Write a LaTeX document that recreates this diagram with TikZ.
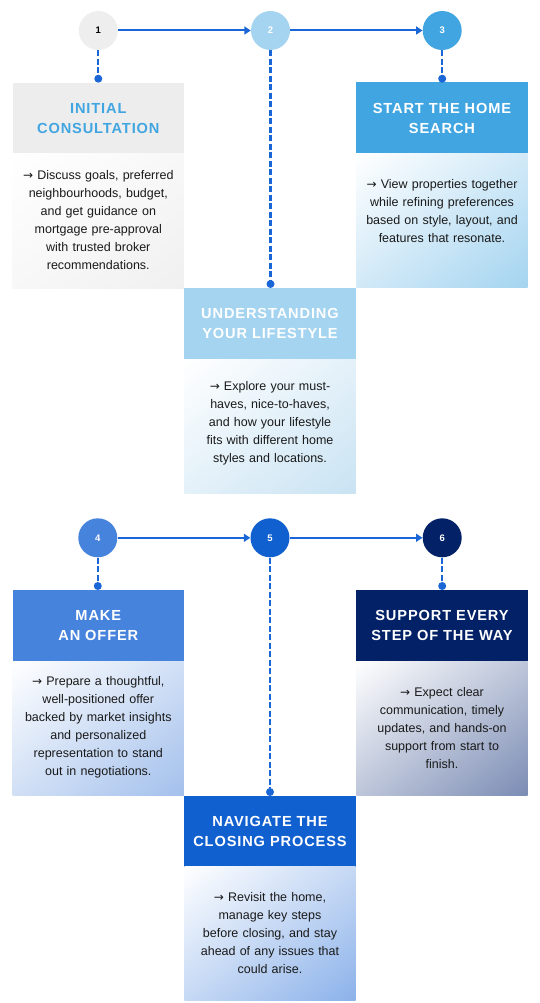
\documentclass[tikz,border=0pt]{standalone}
\usepackage{fontspec}
\setmainfont{Liberation Sans}
\newfontfamily\ttlfont[LetterSpace=6]{Liberation Sans}
\newfontfamily\arrfont{DejaVu Sans}
\newcommand{\rarr}{{\arrfont\fontsize{12}{18}\selectfont →}}
\usetikzlibrary{arrows.meta,shadings}
\definecolor{cA}{HTML}{EEEEEE}
\definecolor{hA}{HTML}{EDEDED}
\definecolor{tA}{HTML}{41A5E1}
\definecolor{bA}{HTML}{F0F0F0}
\definecolor{cB}{HTML}{A4D4F0}
\definecolor{bB}{HTML}{C9E3F3}
\definecolor{cC}{HTML}{41A5E1}
\definecolor{bC}{HTML}{A4D4F0}
\definecolor{cD}{HTML}{4683DD}
\definecolor{bD}{HTML}{A3C0EC}
\definecolor{cE}{HTML}{1160D0}
\definecolor{bE}{HTML}{8CB2EA}
\definecolor{cF}{HTML}{022166}
\definecolor{bF}{HTML}{7B8CB4}
\definecolor{link}{HTML}{1A66D6}
\definecolor{txt}{HTML}{1A1A1A}
\tikzset{
  circ/.style={circle, minimum size=39pt, inner sep=0pt, font=\fontsize{9.5}{10}\selectfont\bfseries, text=white},
  hdr/.style={rectangle, minimum width=171.3pt, minimum height=71pt, inner sep=0pt, align=center, text=white,
    font=\ttlfont\bfseries\fontsize{14.6}{20}\selectfont},
  body/.style={rectangle, minimum width=171.3pt, minimum height=134pt, inner sep=0pt,
    shade, upper left=white, upper right=#1!50!white, lower left=#1!50!white, lower right=#1},
  btxt/.style={align=center, text width=170pt, inner sep=0pt, text=txt, font=\fontsize{12.5}{18}\selectfont},
  flow/.style={draw=link, line width=2pt, -{Triangle[length=6.5pt,width=8pt]}},
  dashlink/.style={draw=link, line width=2.2pt, dash pattern=on 6pt off 2.5pt},
  dotnode/.style={circle, fill=link, minimum size=8pt, inner sep=0pt}
}
\begin{document}
\begin{tikzpicture}[x=1pt,y=-1pt]
\useasboundingbox (0,0) rectangle (540,1003);
% ---------- boxes row 1 ----------
\node[hdr, fill=hA, text=tA] (h1) at (98.3,118.5) {INITIAL\\CONSULTATION};
\node[body=bA] (b1) at (98.3,221) {};
\node[btxt] (t1) at (98.3,220.5) {\rarr\ Discuss goals, preferred\\neighbourhoods, budget,\\and get guidance on\\mortgage pre-approval\\with trusted broker\\recommendations.};

\node[hdr, fill=cC] (h3) at (442,118) {START THE HOME\\SEARCH};
\node[body=bC] (b3) at (442,220.5) {};
\node[btxt] (t3) at (442,211.5) {\rarr\ View properties together\\while refining preferences\\based on style, layout, and\\features that resonate.};

\node[hdr, fill=cB] (h2) at (270,323.5) {UNDERSTANDING\\YOUR LIFESTYLE};
\node[body=bB] (b2) at (270,426) {};
\node[btxt] (t2) at (270,423) {\rarr\ Explore your must-\\haves, nice-to-haves,\\and how your lifestyle\\fits with different home\\styles and locations.};

% ---------- boxes row 2 ----------
\node[hdr, fill=cD] (h4) at (98.3,625.5) {MAKE\\AN OFFER};
\node[body=bD] (b4) at (98.3,728) {};
\node[btxt] (t4) at (98.3,727.5) {\rarr\ Prepare a thoughtful,\\well-positioned offer\\backed by market insights\\and personalized\\representation to stand\\out in negotiations.};

\node[hdr, fill=cF] (h6) at (442,625.5) {SUPPORT EVERY\\STEP OF THE WAY};
\node[body=bF] (b6) at (442,728) {};
\node[btxt] (t6) at (442,728) {\rarr\ Expect clear\\communication, timely\\updates, and hands-on\\support from start to\\finish.};

\node[hdr, fill=cE] (h5) at (270,831) {NAVIGATE THE\\CLOSING PROCESS};
\node[body=bE] (b5) at (270,933) {};
\node[btxt] (t5) at (270,933) {\rarr\ Revisit the home,\\manage key steps\\before closing, and stay\\ahead of any issues that\\could arise.};

% ---------- circles ----------
\node[circ, fill=cA, text=black] (n1) at (98.3,30.5) {1};
\node[circ, fill=cB] (n2) at (270.5,30.5) {2};
\node[circ, fill=cC] (n3) at (442.2,30.5) {3};
\node[circ, fill=cD] (n4) at (97.8,537.8) {4};
\node[circ, fill=cE] (n5) at (270,537.8) {5};
\node[circ, fill=cF] (n6) at (442.2,537.8) {6};

% ---------- dots ----------
\node[dotnode] (d1) at (98.3,78.7) {};
\node[dotnode] (d2) at (270.5,284) {};
\node[dotnode] (d3) at (442.2,78.7) {};
\node[dotnode] (d4) at (97.8,586) {};
\node[dotnode] (d5) at (270,792) {};
\node[dotnode] (d6) at (442.2,586) {};

% ---------- connectors ----------
\draw[flow] (n1) -- (n2);
\draw[flow] (n2) -- (n3);
\draw[flow] (n4) -- (n5);
\draw[flow] (n5) -- (n6);
\draw[dashlink] (n1) -- (d1);
\draw[dashlink] (n2) -- (d2);
\draw[dashlink] (n3) -- (d3);
\draw[dashlink] (n4) -- (d4);
\draw[dashlink] (n5) -- (d5);
\draw[dashlink] (n6) -- (d6);
\end{tikzpicture}
\end{document}
